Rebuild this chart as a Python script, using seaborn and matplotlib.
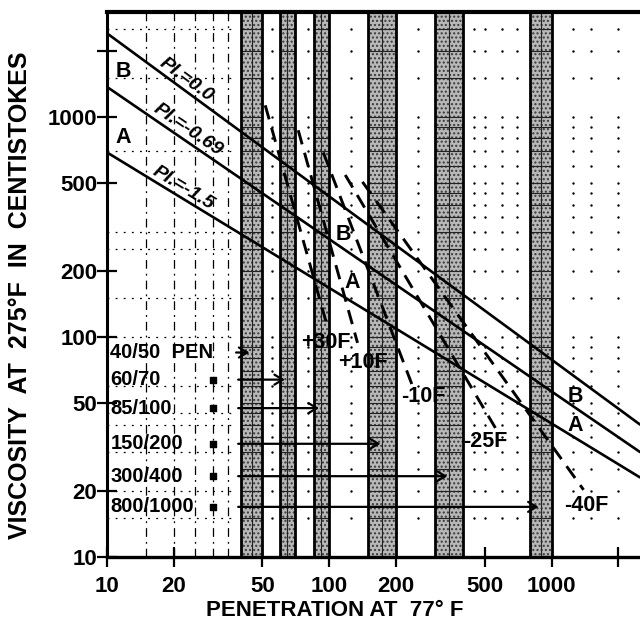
import numpy as np
import pandas as pd
import matplotlib
matplotlib.use("Agg")
import matplotlib.pyplot as plt
from matplotlib.ticker import FixedLocator, FixedFormatter, NullFormatter
import seaborn as sns

# ---- data -------------------------------------------------------------
# penetration grades (penetration at 77 F)
grade_labels = ["40/50", "60/70", "85/100", "150/200", "300/400", "800/1000"]
grade_lo = [40, 60, 85, 150, 300, 800]
grade_hi = [50, 70, 100, 200, 400, 1000]
grade_mid = [45, 65, 92.5, 175, 350, 900]
grade_label_vis = [85, 64, 47.5, 32.7, 23.3, 16.9]

# penetration index lines (viscosity at 275 F, cSt)
pi_labels = ["PI.=0.0", "PI.=-0.69", "PI.=-1.5"]
pi_pen = [10, 2500]
pi_vis_start = [2400, 1370, 690]
pi_vis_end = [40, 30, 23]
pi_label_pen = [22.7, 23.2, 22.0]
pi_label_vis = [1473, 873, 475]

# zone letters between the PI lines
zone_letters = ["B", "A", "B", "A", "B", "A"]
zone_pen = [11.8, 11.8, 115.6, 127, 1282, 1282]
zone_vis = [1602, 803, 291, 176, 53.4, 39.8]

# temperature lines
temp_labels = ["+30F", "+10F", "-10F", "-25F", "-40F"]
temp_pen_top = [51.5, 72.5, 94, 118, 141]
temp_vis_top = [1130, 870, 690, 545, 507]
temp_pen_bot = [97, 134, 236, 559, 1393]
temp_vis_bot = [116, 94, 60.5, 38.6, 20.2]
temp_label_dx = [0, 4, 8, -7, 2]      # points
temp_label_dy = [-14, -14, -8, -10, -11]

# chart grid
grid_pen_left = [15, 20, 25, 30, 35]
grid_vis_left = [15, 20, 30, 40, 45, 60, 100, 150, 250, 300, 700, 1500, 2500]
grid_pen_right = [55, 80, 125, 250, 450, 500, 600, 700, 1250, 1500, 2000]
grid_vis = [15, 20, 25, 30, 35, 40, 45, 50, 60, 70, 80, 90, 100, 150, 200,
            250, 300, 350, 400, 450, 500, 600, 700, 800, 900, 1000, 1500,
            2000, 2500]

x_major = [10, 20, 50, 100, 200, 500, 1000, 2000]
x_major_labels = ["10", "20", "50", "100", "200", "500", "1000", ""]
x_minor = [30, 40, 60, 70, 80, 90, 300, 400, 600, 700, 800, 900]
y_major = [10, 20, 50, 100, 200, 500, 1000, 2000]
y_major_labels = ["10", "20", "50", "100", "200", "500", "1000", ""]
y_minor = [30, 40, 60, 70, 80, 90, 300, 400, 600, 700, 800, 900]

# ---- style ------------------------------------------------------------
sns.set_theme(style="white")
plt.rcParams["font.family"] = ["Liberation Sans", "DejaVu Sans"]
plt.rcParams.update({
    "font.weight": "bold",
    "text.color": "black",
    "axes.labelcolor": "black",
    "xtick.color": "black",
    "ytick.color": "black",
})

fig = plt.figure(figsize=(6.4, 6.33), dpi=100)
ax = fig.add_axes([107 / 640, 1 - 557 / 633, 533 / 640, 545 / 633])
ax.set_xscale("log")
ax.set_yscale("log")
ax.set_xlim(10, 2500)
ax.set_ylim(10, 3000)

# grid in the low-penetration region
for xv in grid_pen_left:
    ax.axvline(xv, color="black", lw=0.9, ls=(0, (7, 4, 1.5, 4)), zorder=1)
ax.hlines(grid_vis_left, 10, 38, color="black", lw=0.9, ls=(0, (1.5, 5)),
          zorder=1)

# dot lattice in the high-penetration region
gx, gy = np.meshgrid(grid_pen_right, grid_vis)
ax.scatter(gx.ravel(), gy.ravel(), s=3, color="black", linewidths=0, zorder=1)

# penetration-grade bands
for lo, hi in zip(grade_lo, grade_hi):
    ax.axvspan(lo, hi, facecolor="#b8b8b8", edgecolor="none", zorder=2)
    ax.axvspan(lo, hi, facecolor="none", edgecolor="#3a3a3a", hatch="....",
               lw=0, zorder=2)
    ax.hlines(grid_vis, lo, hi, color="#222222", lw=0.8, zorder=2)
    ax.axvline(np.sqrt(lo * hi), color="#222222", lw=0.8, zorder=2)
    ax.axvline(lo, color="black", lw=2.0, zorder=3)
    ax.axvline(hi, color="black", lw=2.0, zorder=3)

# PI lines
pi_df = pd.DataFrame({
    "pen": pi_pen * 3,
    "vis": [v for s, e in zip(pi_vis_start, pi_vis_end) for v in (s, e)],
    "line": [lab for lab in pi_labels for _ in range(2)],
})
sns.lineplot(data=pi_df, x="pen", y="vis", units="line", estimator=None,
             color="black", lw=1.9, ax=ax, zorder=5, legend=False)

# temperature lines
temp_df = pd.DataFrame({
    "pen": [v for a, b in zip(temp_pen_top, temp_pen_bot) for v in (a, b)],
    "vis": [v for a, b in zip(temp_vis_top, temp_vis_bot) for v in (a, b)],
    "line": [lab for lab in temp_labels for _ in range(2)],
})
sns.lineplot(data=temp_df, x="pen", y="vis", units="line", estimator=None,
             sort=False, color="black", lw=2.1, ls=(0, (5, 3)), ax=ax,
             zorder=5, legend=False)

ax.set_xlim(10, 2500)
ax.set_ylim(10, 3000)


def screen_angle(x0, y0, x1, y1):
    p0 = ax.transData.transform((x0, y0))
    p1 = ax.transData.transform((x1, y1))
    return np.degrees(np.arctan2(p1[1] - p0[1], p1[0] - p0[0]))


for lab, px, py, s, e in zip(pi_labels, pi_label_pen, pi_label_vis,
                             pi_vis_start, pi_vis_end):
    ang = screen_angle(pi_pen[0], s, pi_pen[1], e)
    ax.text(px, py, lab, rotation=ang, rotation_mode="anchor", ha="center",
            va="center", fontsize=14, fontstyle="italic", fontweight="bold",
            zorder=6)

for lab, px, py in zip(zone_letters, zone_pen, zone_vis):
    ax.text(px, py, lab, ha="center", va="center", fontsize=15.5,
            fontweight="bold", zorder=6)

for lab, px, py, dx, dy in zip(temp_labels, temp_pen_bot, temp_vis_bot,
                               temp_label_dx, temp_label_dy):
    ax.annotate(lab, (px, py), xytext=(dx, dy), textcoords="offset points",
                ha="center", va="center", fontsize=15.5, fontweight="bold",
                zorder=6)

# grade labels and arrows to the bands
arrow_style = dict(arrowstyle="->,head_length=0.5,head_width=0.3", lw=1.6,
                   color="black")
for i, (lab, mid, yv) in enumerate(zip(grade_labels, grade_mid, grade_label_vis)):
    if i == 0:
        ax.text(10.35, yv, lab + "  PEN", ha="left", va="center", fontsize=14.5,
                fontweight="bold", zorder=6)
        ax.annotate("", xy=(mid, yv), xytext=(37, yv), arrowprops=arrow_style,
                    zorder=6)
    else:
        ax.text(10.35, yv, lab, ha="left", va="center", fontsize=14.5,
                fontweight="bold", zorder=6)
        ax.scatter([30], [yv], s=22, marker="s", color="black", zorder=6)
        ax.annotate("", xy=(mid, yv), xytext=(37.8, yv), arrowprops=arrow_style,
                    zorder=6)

# axes, ticks, labels
ax.xaxis.set_major_locator(FixedLocator(x_major))
ax.xaxis.set_major_formatter(FixedFormatter(x_major_labels))
ax.xaxis.set_minor_locator(FixedLocator(x_minor))
ax.xaxis.set_minor_formatter(NullFormatter())
ax.yaxis.set_major_locator(FixedLocator(y_major))
ax.yaxis.set_major_formatter(FixedFormatter(y_major_labels))
ax.yaxis.set_minor_locator(FixedLocator(y_minor))
ax.yaxis.set_minor_formatter(NullFormatter())

ax.tick_params(which="major", direction="inout", length=14, width=1.6,
               labelsize=16, color="black", labelcolor="black")
ax.tick_params(which="minor", direction="inout", length=9, width=1.3,
               color="black")
ax.tick_params(axis="x", which="major", pad=7)
ax.tick_params(axis="y", which="major", pad=0)
ax.tick_params(left=True, bottom=True)
for t in ax.get_xticklabels() + ax.get_yticklabels():
    t.set_fontweight("bold")

ax.spines["right"].set_visible(False)
ax.spines["left"].set_linewidth(2.2)
ax.spines["bottom"].set_linewidth(2.4)
ax.spines["top"].set_linewidth(3.0)
for s in ax.spines.values():
    s.set_color("black")
    s.set_zorder(7)

ax.set_xlabel("")
ax.set_ylabel("")
fig.text(20 / 640, 1 - 295 / 633, "VISCOSITY  AT  275°F  IN  CENTISTOKES",
         rotation=90, ha="center", va="center", fontsize=18, fontweight="bold",
         color="black")
fig.text(335 / 640, 1 - 610 / 633, "PENETRATION AT  77° F",
         ha="center", va="center", fontsize=16, fontweight="bold",
         color="black")

fig.savefig("out.png", dpi=100, facecolor="white")
